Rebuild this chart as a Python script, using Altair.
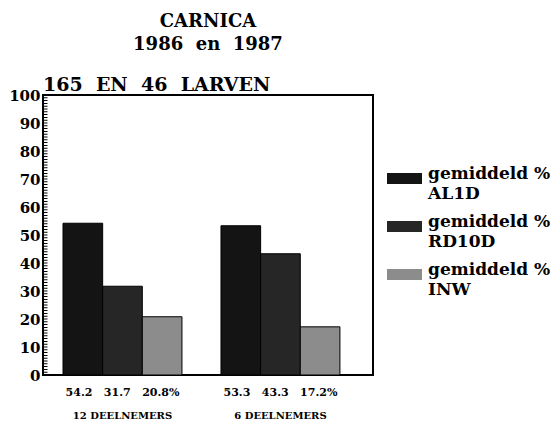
import altair as alt
import pandas as pd

NB = "\u00a0"

# ---- data ----
groups = ["12 DEELNEMERS", "6 DEELNEMERS"]
series = [f"gemiddeld{NB}%|AL1D", f"gemiddeld{NB}%|RD10D", f"gemiddeld{NB}%|INW"]
values_g1 = [54.2, 31.7, 20.8]
values_g2 = [53.3, 43.3, 17.2]
colors = ["#141414", "#262626", "#8c8c8c"]
title_lines = ["CARNICA", f"1986{NB}{NB}en{NB}{NB}1987"]
subtitle_text = f"165{NB}{NB}EN{NB}{NB}46{NB}{NB}LARVEN"
y_ticks = list(range(0, 101, 10))

FONT = "DejaVu Serif"

rows = []
for g, vals in zip(groups, [values_g1, values_g2]):
    for s, v in zip(series, vals):
        rows.append({"group": g, "series": s, "value": v})
df = pd.DataFrame(rows)

df_groups = pd.DataFrame({
    "group": groups,
    "label": [(NB * 3).join(f"{v:.1f}" for v in vals) + "%" for vals in [values_g1, values_g2]],
})
df_sub = pd.DataFrame({"t": [subtitle_text]})

W, H = 330, 280

x_enc = alt.X(
    "group:N", sort=groups,
    scale=alt.Scale(paddingInner=0.247, paddingOuter=0.168, align=0.377),
    axis=alt.Axis(title=None, labelAngle=0, ticks=False, domain=False, labelPadding=35,
                  labelFont=FONT, labelFontSize=10, labelFontWeight="bold", labelColor="black"),
)

bars = alt.Chart(df).mark_bar(stroke="black", strokeWidth=1).encode(
    x=x_enc,
    xOffset=alt.XOffset("series:N", sort=series, scale=alt.Scale(paddingInner=0, paddingOuter=0)),
    y=alt.Y("value:Q", scale=alt.Scale(domain=[0, 100], nice=False),
            axis=alt.Axis(values=y_ticks, grid=False, ticks=False,
                          domain=True, domainColor="black", domainWidth=4,
                          domainDash=[1, 1.8], offset=-2, zindex=2,
                          labelPadding=5, title=None,
                          labelFont=FONT, labelFontSize=15, labelFontWeight="bold",
                          labelColor="black")),
    color=alt.Color("series:N", sort=series,
                    scale=alt.Scale(domain=series, range=colors),
                    legend=alt.Legend(title=None, orient="none", legendX=344, legendY=66,
                                      direction="vertical",
                                      symbolType="M-1,-0.314L1,-0.314L1,0.314L-1,0.314Z",
                                      symbolSize=1225, symbolStrokeWidth=0,
                                      labelExpr="split(datum.label, '|')",
                                      labelFont=FONT, labelFontSize=17, labelFontWeight="bold",
                                      labelColor="black", labelLimit=0, labelOffset=6,
                                      labelBaseline="alphabetic", rowPadding=7, padding=0)),
)

vlabels = alt.Chart(df_groups).mark_text(
    baseline="top", font=FONT, fontSize=11, fontWeight="bold", color="black"
).encode(
    x=alt.X("group:N", sort=groups),
    y=alt.value(H + 12),
    text="label:N",
)

sub = alt.Chart(df_sub).mark_text(
    align="left", baseline="alphabetic", font=FONT, fontSize=19, fontWeight="bold", color="black"
).encode(x=alt.value(0), y=alt.value(-4), text="t:N")

chart = alt.layer(bars, vlabels, sub).properties(
    width=W, height=H,
    autosize=alt.AutoSizeParams(type="none"),
    padding={"left": 35, "top": 87, "right": 177, "bottom": 45},
    title=alt.TitleParams(text=title_lines, anchor="middle", frame="group", font=FONT,
                          fontSize=18, fontWeight="bold", lineHeight=23, color="black",
                          offset=22),
).configure(
    background="white",
    style={"guide-label": {"lineHeight": 20}},
    view=alt.ViewConfig(stroke="black", strokeWidth=2),
)

chart.save("out.html", embed_options={"renderer": "svg", "actions": False})
